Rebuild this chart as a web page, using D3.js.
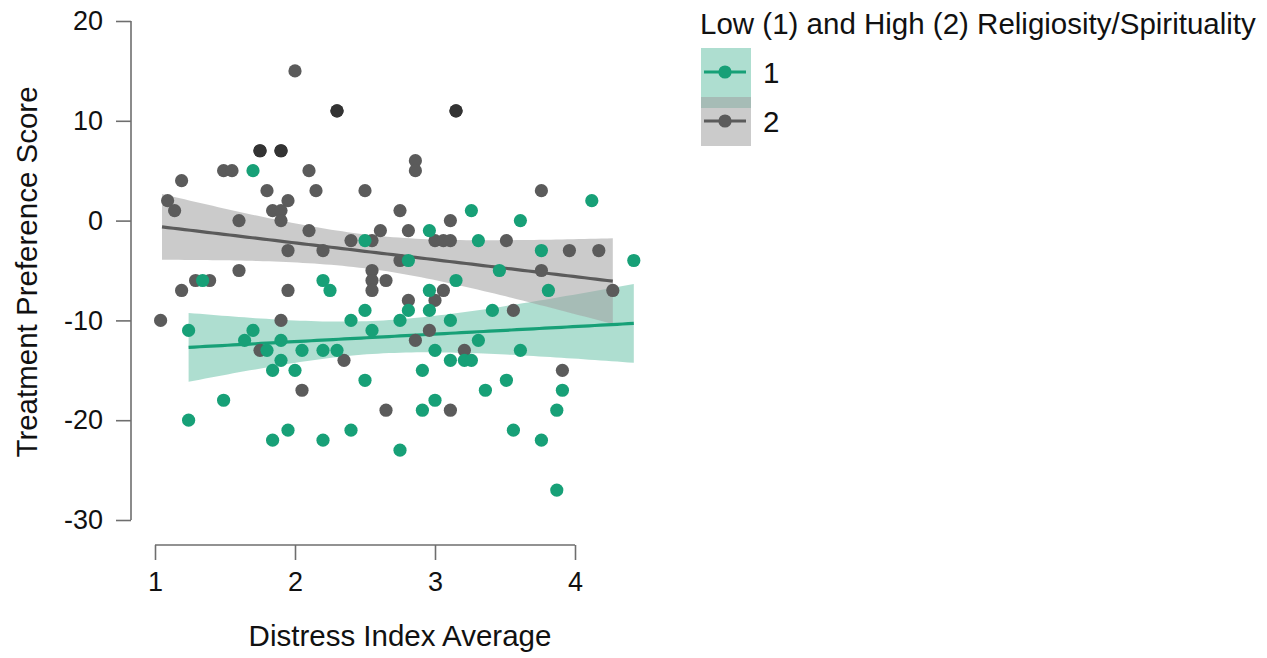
<!DOCTYPE html>
<html>
<head>
<meta charset="UTF-8">
<script src="https://d3js.org/d3.v7.min.js"></script>
<style>
  body { margin: 0; background: #fff; }
  svg text { font-family: "Liberation Sans", Arial, sans-serif; fill: #111; }
</style>
</head>
<body>
<div id="chart"></div>
<script>
// group 1 = low religiosity/spirituality (green), group 2 = high (grey)
var lowX = [1.70, 4.12, 3.26, 3.61, 2.96, 2.50, 3.31, 3.76, 4.42, 2.81, 3.46, 1.34, 2.20, 3.15, 2.25,
            2.96, 3.81, 2.50, 2.81, 2.96, 3.41, 2.40, 2.75, 3.11, 1.24, 1.70, 2.55, 1.64, 1.90, 3.31,
            1.80, 2.05, 2.20, 2.30, 3.00, 3.61, 1.90, 3.11, 3.21, 3.26, 1.84, 2.00, 2.91, 2.50, 3.51,
            3.36, 3.91, 1.49, 3.00, 2.91, 3.87, 1.24, 1.95, 2.40, 3.56, 1.84, 2.20, 3.76, 2.75, 3.87];
var lowY = [5, 2, 1, 0, -1, -2, -2, -3, -4, -4, -5, -6, -6, -6, -7,
            -7, -7, -9, -9, -9, -9, -10, -10, -10, -11, -11, -11, -12, -12, -12,
            -13, -13, -13, -13, -13, -13, -14, -14, -14, -14, -15, -15, -15, -16, -16,
            -17, -17, -18, -18, -19, -19, -20, -21, -21, -21, -22, -22, -22, -23, -27];

var highX = [2.00, 2.30, 2.30, 3.15, 3.15, 1.75, 1.75, 1.90, 1.90, 1.49, 1.55, 2.10, 1.19, 1.80, 2.15,
             2.50, 2.86, 2.86, 3.76, 1.95, 1.09, 1.84, 1.90, 1.14, 2.75, 1.90, 1.60, 3.11, 2.10, 2.61,
             2.81, 2.40, 2.55, 3.00, 3.06, 3.11, 3.51, 1.95, 2.20, 3.96, 4.17, 2.75, 1.60, 2.55, 3.76,
             1.29, 1.39, 2.55, 2.65, 1.19, 1.95, 2.55, 3.06, 4.27, 2.81, 3.00, 3.56, 1.04, 1.90, 2.96,
             2.86, 1.75, 3.21, 2.35, 3.91, 2.05, 2.65, 3.11];
var highY = [15, 11, 11, 11, 11, 7, 7, 7, 7, 5, 5, 5, 4, 3, 3,
             3, 6, 5, 3, 2, 2, 1, 1, 1, 1, 0, 0, 0, -1, -1,
             -1, -2, -2, -2, -2, -2, -2, -3, -3, -3, -3, -4, -5, -5, -5,
             -6, -6, -6, -6, -7, -7, -7, -7, -7, -8, -8, -9, -10, -10, -11,
             -12, -13, -13, -14, -15, -17, -19, -19];

// fitted lines (ends) and 95% band half-widths read at left end, narrowest point, right end
var lowFitX = [1.24, 4.42];
var lowFitY = [-12.7, -10.3];
var lowBandX = [1.24, 2.6, 4.42];
var lowBandHalf = [3.45, 1.65, 3.95];
var highFitX = [1.05, 4.27];
var highFitY = [-0.63, -6.07];
var highBandX = [1.05, 2.5, 4.27];
var highBandHalf = [3.3, 1.7, 4.3];

var groupNames = ["1", "2"];
var xTicks = [1, 2, 3, 4];
var yTicks = [-30, -20, -10, 0, 10, 20];
var legendTitle = "Low (1) and High (2) Religiosity/Spirituality";
var xTitle = "Distress Index Average";
var yTitle = "Treatment Preference Score";

var width = 1267, height = 658;
var pointCol = ["#17a077", "#5b5b5b"];
var dupCol = ["#0e7a5a", "#333333"];
var bandCol = ["rgba(23,160,119,0.35)", "rgba(160,160,160,0.55)"];

var svg = d3.select("#chart").append("svg")
    .attr("width", width)
    .attr("height", height);

var x = d3.scaleLinear().domain([1, 4]).range([155, 575]);
var y = d3.scaleLinear().domain([-30, 20]).range([520, 21]);

// axes
var yAxis = svg.append("g")
    .attr("transform", "translate(131,0)")
    .call(d3.axisLeft(y).tickValues(yTicks).tickSize(15).tickPadding(13).tickSizeOuter(0)
        .tickFormat(function (d) { return String(d); }));
var xAxis = svg.append("g")
    .attr("transform", "translate(0,545)")
    .call(d3.axisBottom(x).tickValues(xTicks).tickSize(15).tickPadding(12).tickSizeOuter(0)
        .tickFormat(function (d) { return String(d); }));
[yAxis, xAxis].forEach(function (a) {
    a.selectAll("path, line").attr("stroke", "#6e6e6e").attr("stroke-width", 1.6);
    a.selectAll("text").style("font-size", "27px").attr("fill", "#111");
    a.select(".domain").attr("d", a === yAxis ? "M0,21V520" : "M155,0H575");
});

svg.append("text")
    .attr("transform", "translate(37,272) rotate(-90)")
    .attr("text-anchor", "middle")
    .style("font-size", "29.5px")
    .text(yTitle);
svg.append("text")
    .attr("x", 400).attr("y", 646)
    .attr("text-anchor", "middle")
    .style("font-size", "29.5px")
    .text(xTitle);

// band: h(x)^2 = h_min^2 + B (x - x_min)^2 on each side of the narrowest point
function band(fx, fy, bx, bh) {
    var m = bx[1], hm = bh[1];
    var bL = (bh[0] * bh[0] - hm * hm) / ((bx[0] - m) * (bx[0] - m));
    var bR = (bh[2] * bh[2] - hm * hm) / ((bx[2] - m) * (bx[2] - m));
    var lineY = d3.scaleLinear().domain(fx).range(fy);
    return d3.range(0, 81).map(function (k) {
        var xv = fx[0] + (fx[1] - fx[0]) * k / 80;
        var b = xv < m ? bL : bR;
        var h = Math.sqrt(hm * hm + b * (xv - m) * (xv - m));
        var yv = lineY(xv);
        return { x: xv, y: yv, lo: yv - h, hi: yv + h };
    });
}

var groups = [
    { xs: lowX, ys: lowY, fit: band(lowFitX, lowFitY, lowBandX, lowBandHalf) },
    { xs: highX, ys: highY, fit: band(highFitX, highFitY, highBandX, highBandHalf) }
];

var area = d3.area()
    .x(function (d) { return x(d.x); })
    .y0(function (d) { return y(d.lo); })
    .y1(function (d) { return y(d.hi); });
var line = d3.line()
    .x(function (d) { return x(d.x); })
    .y(function (d) { return y(d.y); });

groups.forEach(function (g, i) {
    svg.append("path").datum(g.fit)
        .attr("d", area)
        .attr("fill", bandCol[i]);
});

groups.forEach(function (g, i) {
    svg.append("path").datum(g.fit)
        .attr("d", line)
        .attr("fill", "none")
        .attr("stroke", pointCol[i])
        .attr("stroke-width", 3.2);
});

// points; repeated values are drawn darker
[1, 0].forEach(function (i) {
    var g = groups[i];
    var pts = g.xs.map(function (v, k) { return { x: v, y: g.ys[k] }; });
    var counts = d3.rollup(pts, function (v) { return v.length; }, function (d) { return d.x + "_" + d.y; });
    svg.append("g").selectAll("circle")
        .data(pts)
        .enter().append("circle")
        .attr("cx", function (d) { return x(d.x); })
        .attr("cy", function (d) { return y(d.y); })
        .attr("r", 6.6)
        .attr("fill", function (d) {
            return counts.get(d.x + "_" + d.y) > 1 ? dupCol[i] : pointCol[i];
        });
});

// legend
svg.append("text")
    .attr("x", 700).attr("y", 34)
    .style("font-size", "29.5px")
    .text(legendTitle);

var leg = svg.append("g").selectAll("g")
    .data(groupNames)
    .enter().append("g")
    .attr("transform", function (d, i) { return "translate(701," + (48 + i * 49) + ")"; });
leg.append("rect")
    .attr("width", 50).attr("height", function (d, i) { return i === 0 ? 60 : 49; })
    .attr("fill", function (d, i) { return bandCol[i]; });
leg.append("line")
    .attr("x1", 3).attr("x2", 45)
    .attr("y1", 24).attr("y2", 24)
    .attr("stroke", function (d, i) { return pointCol[i]; })
    .attr("stroke-width", 3.2);
leg.append("circle")
    .attr("cx", 24).attr("cy", 24).attr("r", 6.6)
    .attr("fill", function (d, i) { return pointCol[i]; });
leg.append("text")
    .attr("x", 62).attr("y", 35)
    .style("font-size", "29.5px")
    .text(function (d) { return d; });
</script>
</body>
</html>
